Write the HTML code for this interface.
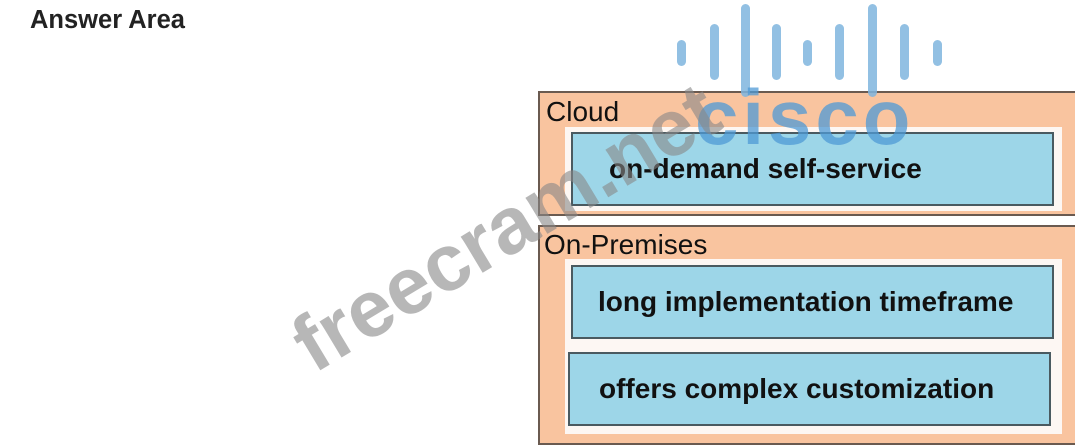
<!DOCTYPE html>
<html><head><style>
body{margin:0;width:1075px;height:438px;background:#fff;position:relative;overflow:hidden;font-family:"Liberation Sans",Arial,sans-serif}
.a{position:absolute}
.outer{background:#f9c49f;border:2px solid #6a5a50;box-sizing:border-box}
.white{background:#fdf7f3}
.blue{background:#9dd6e8;border:2px solid #4a5a60;box-sizing:border-box;font-weight:bold;font-size:28px;color:#111;display:flex;align-items:center}
.lbl{font-size:28px;color:#111}
.bar{position:absolute;width:9px;border-radius:5px;background:#7fb5de;opacity:.85}
</style></head><body>
<div class="a" style="left:30px;top:6px;font-weight:bold;font-size:25.5px;color:#222">Answer Area</div>

<div class="a outer" style="left:538px;top:91px;width:545px;height:125px"></div>
<div class="a lbl" style="left:546px;top:96px">Cloud</div>
<div class="a white" style="left:565px;top:127px;width:497px;height:84px"></div>
<div class="a blue" style="left:571px;top:132px;width:483px;height:74px;padding-left:36px">on-demand self-service</div>

<div class="a outer" style="left:538px;top:225px;width:545px;height:220px"></div>
<div class="a lbl" style="left:544px;top:229px">On-Premises</div>
<div class="a white" style="left:565px;top:259px;width:497px;height:175px"></div>
<div class="a blue" style="left:571px;top:265px;width:483px;height:74px;padding-left:25px">long implementation timeframe</div>
<div class="a blue" style="left:568px;top:352px;width:483px;height:74px;padding-left:29px">offers complex customization</div>

<div class="bar" style="left:677px;top:40px;height:26px"></div>
<div class="bar" style="left:710px;top:24px;height:56px"></div>
<div class="bar" style="left:741px;top:4px;height:93px"></div>
<div class="bar" style="left:772px;top:24px;height:56px"></div>
<div class="bar" style="left:803px;top:40px;height:26px"></div>
<div class="bar" style="left:835px;top:24px;height:56px"></div>
<div class="bar" style="left:868px;top:4px;height:93px"></div>
<div class="bar" style="left:900px;top:24px;height:56px"></div>
<div class="bar" style="left:933px;top:40px;height:26px"></div>
<div class="a" style="left:695px;top:72px;font-size:78px;font-weight:bold;color:#4f9ad6;opacity:.75;letter-spacing:4px">cisco</div>

<div class="a" style="left:300px;top:305px;font-size:80px;font-weight:bold;color:#888;opacity:.6;transform:rotate(-31deg);transform-origin:left center;white-space:nowrap">freecram.net</div>
</body></html>
